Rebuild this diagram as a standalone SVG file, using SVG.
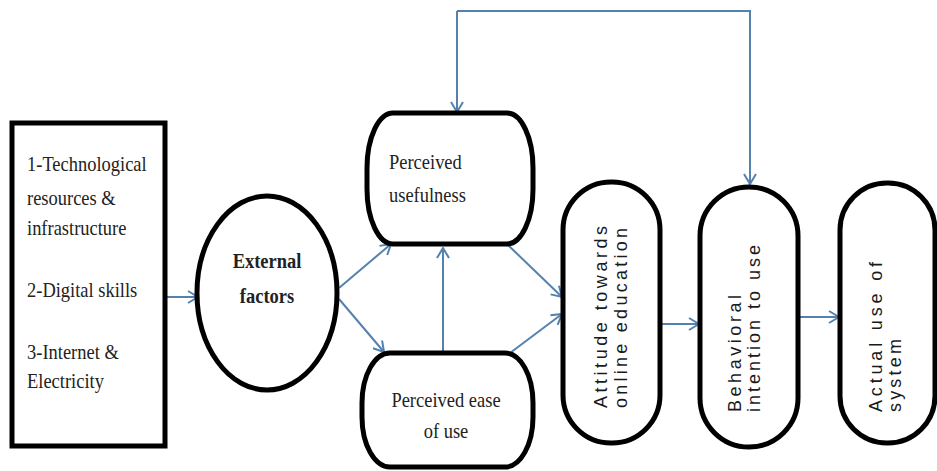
<svg xmlns="http://www.w3.org/2000/svg" width="937" height="471" viewBox="0 0 937 471">
<style>
.node{fill:#fff;stroke:#000;stroke-width:5}
.conn{fill:none;stroke:#5581AE;stroke-width:2}
.serif{font-family:"Liberation Serif","Times New Roman",serif;font-size:22px;fill:#222}
.sans{font-family:"Liberation Sans",Arial,sans-serif;font-size:18px;fill:#1a1a1a}
</style>
<defs>
<marker id="arr" viewBox="0 0 12 14" refX="11" refY="7" markerWidth="12" markerHeight="14" markerUnits="userSpaceOnUse" orient="auto">
<path d="M1,1 L11,7 L1,13" fill="none" stroke="#5581AE" stroke-width="2"/>
</marker>
</defs>
<rect width="937" height="471" fill="#fff"/>

<g id="connectors">
<path class="conn" d="M167,297 L198,297" marker-end="url(#arr)"/>
<path class="conn" d="M339,288 L391,244" marker-end="url(#arr)"/>
<path class="conn" d="M339,299 L384,352" marker-end="url(#arr)"/>
<path class="conn" d="M443,353 L443,248" marker-end="url(#arr)" stroke="#7E9CBC"/>
<path class="conn" d="M508,245 L562,297" marker-end="url(#arr)"/>
<path class="conn" d="M510,353 L562,314" marker-end="url(#arr)"/>
<path class="conn" d="M662,324 L699,324" marker-end="url(#arr)" stroke-width="3"/>
<path class="conn" d="M799,317 L839,317" marker-end="url(#arr)"/>
<path class="conn" d="M457,11 L750,11 L750,184" marker-end="url(#arr)" stroke="#5F7F9F"/>
<path class="conn" d="M457,11 L457,112" marker-end="url(#arr)" stroke="#5F7F9F"/>
</g>

<g id="factors">
<rect class="node" x="12" y="123" width="153" height="323" stroke-width="6"/>
<g transform="translate(27,0) scale(0.84,1)">
<text class="serif" x="0" y="171">1-Technological</text>
<text class="serif" x="0" y="205">resources &amp;</text>
<text class="serif" x="0" y="235">infrastructure</text>
<text class="serif" x="0" y="297">2-Digital skills</text>
<text class="serif" x="0" y="359">3-Internet &amp;</text>
<text class="serif" x="0" y="388">Electricity</text>
</g>
</g>

<g id="external">
<ellipse class="node" cx="267" cy="293" rx="70" ry="97"/>
<g transform="translate(267,0) scale(0.84,1)">
<text class="serif" x="0" y="268" text-anchor="middle" font-weight="bold" font-size="21">External</text>
<text class="serif" x="0" y="303" text-anchor="middle" font-weight="bold" font-size="21">factors</text>
</g>
</g>

<g id="usefulness">
<rect class="node" x="367" y="113" width="166" height="131" rx="26" ry="55"/>
<g transform="translate(389,0) scale(0.84,1)">
<text class="serif" x="0" y="169">Perceived</text>
<text class="serif" x="0" y="202">usefulness</text>
</g>
</g>

<g id="ease">
<rect class="node" x="362" y="353" width="171" height="114" rx="28" ry="50"/>
<g transform="translate(446,0) scale(0.84,1)">
<text class="serif" x="0" y="407" text-anchor="middle">Perceived ease</text>
<text class="serif" x="0" y="438" text-anchor="middle">of use</text>
</g>
</g>

<g id="attitude">
<rect class="node" x="563" y="182" width="97" height="261" rx="48" ry="48"/>
<text class="sans" transform="translate(607,408) rotate(-90)" textLength="182" lengthAdjust="spacing">Attitude towards</text>
<text class="sans" transform="translate(627,408) rotate(-90)" textLength="180" lengthAdjust="spacing">online education</text>
</g>

<g id="intention">
<rect class="node" x="700" y="187" width="98" height="260" rx="49" ry="49"/>
<text class="sans" transform="translate(741,412) rotate(-90)" textLength="117" lengthAdjust="spacing">Behavioral</text>
<text class="sans" transform="translate(760,412) rotate(-90)" textLength="167" lengthAdjust="spacing">intention to use</text>
</g>

<g id="actual">
<rect class="node" x="840" y="183" width="95" height="260" rx="47" ry="47"/>
<text class="sans" transform="translate(882,412) rotate(-90)" textLength="150" lengthAdjust="spacing">Actual use of</text>
<text class="sans" transform="translate(901,412) rotate(-90)" textLength="73" lengthAdjust="spacing">system</text>
</g>
</svg>
